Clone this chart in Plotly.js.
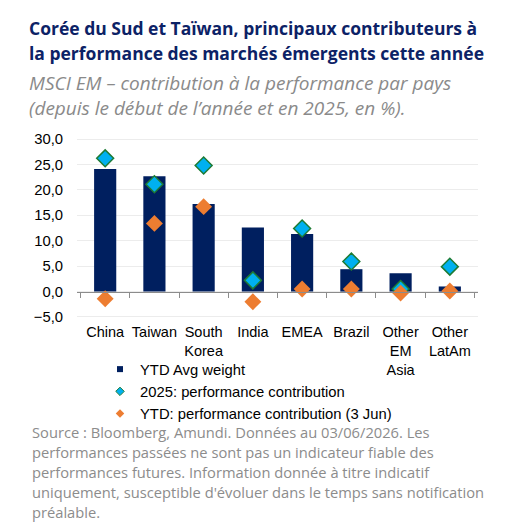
<!DOCTYPE html>
<html><head><meta charset="utf-8">
<script src="https://cdn.plot.ly/plotly-3.0.1.min.js"></script>
<style>html,body{margin:0;padding:0;background:#fff}#c{width:532px;height:526px}</style>
</head><body><div id="c"></div>
<script>
const categories = ["China","Taiwan","South<br>Korea","India","EMEA","Brazil","Other<br>EM<br>Asia","Other<br>LatAm"];
const ytdAvgWeight = [24.1, 22.7, 17.2, 12.6, 11.3, 4.4, 3.6, 1.0];
const perf2025 = [26.2, 21.1, 24.8, 2.2, 12.4, 5.9, 0.5, 4.9];
const perfYTD = [-1.4, 13.4, 16.7, -2.0, 0.5, 0.5, -0.3, 0.1];
const seriesNames = ["YTD Avg weight","2025: performance contribution","YTD: performance contribution (3 Jun)"];
const titleLines = ["Corée du Sud et Taïwan, principaux contributeurs à","la performance des marchés émergents cette année"];
const subtitleLines = ["MSCI EM – contribution à la performance par pays","(depuis le début de l’année et en 2025, en %)."];
const footerLines = ["Source : Bloomberg, Amundi. Données au 03/06/2026. Les","performances passées ne sont pas un indicateur fiable des","performances futures. Information donnée à titre indicatif","uniquement, susceptible d'évoluer dans le temps sans notification","préalable."];

const W=532,H=526, mL=77, mR=54, mT=138, mB=208;
const yMin=-5.2, yMax=30.2;
const plotH=H-mT-mB, plotW=W-mL-mR;
const py = Y => (H-mB-Y)/plotH;
const px = X => (X-mL)/plotW;

const ann=[];
const tf={family:"Open Sans, Noto Sans, sans-serif", size:17.5, color:"#0c2266"};
titleLines.forEach((t,i)=>ann.push({text:"<b>"+t+"</b>",xref:"paper",yref:"paper",x:px(27),y:py([28,53][i]),xanchor:"left",yanchor:"middle",showarrow:false,font:tf}));
const sf={family:"Open Sans, Noto Sans, sans-serif", size:19, color:"#8a8a8a"};
ann.push({text:subtitleLines.map(t=>"<i>"+t+"</i>").join("<br>"),xref:"paper",yref:"paper",x:px(27),y:py(95),xanchor:"left",yanchor:"middle",align:"left",showarrow:false,font:sf});
const ff={family:"Open Sans, Noto Sans, sans-serif", size:14.7, color:"#8c8c8c"};
footerLines.forEach((t,i)=>ann.push({text:t,xref:"paper",yref:"paper",x:px(30),y:py(432+20*i),xanchor:"left",yanchor:"middle",showarrow:false,font:ff}));

const lf="Liberation Sans, Arial, sans-serif";
const data=[
 {type:"bar",x:categories,y:ytdAvgWeight,name:seriesNames[0],marker:{color:"#001f5f"},width:0.45,showlegend:false},
 {type:"scatter",mode:"markers",x:categories,y:perf2025,name:seriesNames[1],marker:{symbol:"diamond",size:13,color:"#00b0f0",line:{color:"#1e7b34",width:1.5}},showlegend:false},
 {type:"scatter",mode:"markers",x:categories,y:perfYTD,name:seriesNames[2],marker:{symbol:"diamond",size:13,color:"#ed7d31",line:{color:"#ed7d31",width:0}},showlegend:false},
 // legend-only entries with small symbols
 {type:"scatter",mode:"markers",x:[null],y:[null],name:seriesNames[0],marker:{symbol:"square",size:6,color:"#001f5f"}},
 {type:"scatter",mode:"markers",x:[null],y:[null],name:seriesNames[1],marker:{symbol:"diamond",size:6.5,color:"#00b0f0",line:{color:"#1e7b34",width:1}}},
 {type:"scatter",mode:"markers",x:[null],y:[null],name:seriesNames[2],marker:{symbol:"diamond",size:6.5,color:"#ed7d31"}}
];
const layout={
 width:W,height:H,margin:{l:mL,r:mR,t:mT,b:mB},paper_bgcolor:"#fff",plot_bgcolor:"#fff",
 showlegend:true,
 font:{family:lf,size:14.5,color:"#000"},
 xaxis:{type:"category",categoryorder:"array",categoryarray:categories,anchor:"free",position:(0-yMin)/(yMax-yMin),showline:true,linecolor:"#8c8c8c",linewidth:1,
   ticks:"outside",tickson:"boundaries",ticklen:5,tickcolor:"#8c8c8c",showgrid:false,ticklabelstandoff:27,automargin:false,tickangle:0,
   tickfont:{family:lf,size:14.5,color:"#000"}},
 yaxis:{range:[yMin,yMax],dtick:5,tick0:0,tickformat:".1f",showgrid:true,gridcolor:"#ececec",gridwidth:1,zeroline:false,showline:false,
   ticks:"",ticklabelstandoff:13,automargin:false,tickfont:{family:lf,size:14.8,color:"#000"}},
 separators:",.",
 legend:{x:px(100),y:py(353),xanchor:"left",yanchor:"top",orientation:"v",font:{size:14.8,family:lf,color:"#000"},bgcolor:"rgba(0,0,0,0)",tracegroupgap:0,itemwidth:30},
 annotations:ann
};
Plotly.newPlot("c",data,layout,{displayModeBar:false,staticPlot:true});
</script></body></html>
